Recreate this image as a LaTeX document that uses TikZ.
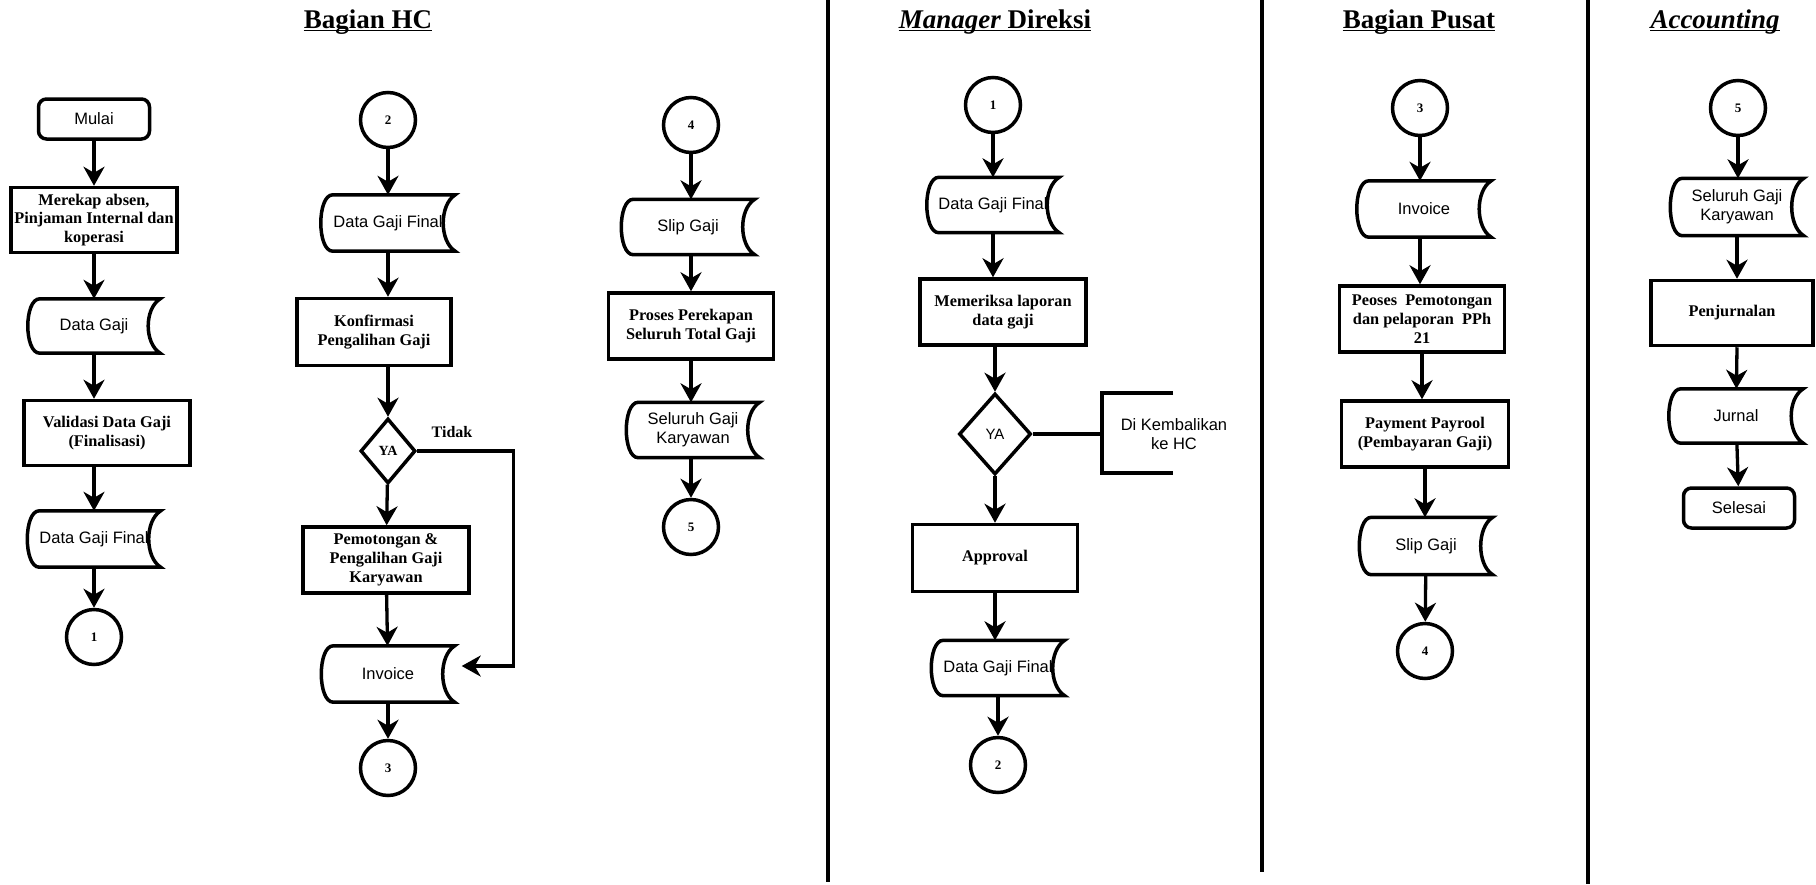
\documentclass[tikz,border=0pt]{standalone}
\usepackage{fontspec}
\setmainfont{Liberation Serif}
\setsansfont{Liberation Sans}
\usetikzlibrary{arrows.meta,shapes.geometric}

\tikzset{
    garis/.style={line width=3.5pt},
    panah/.style={line width=3.3pt, -{Stealth[length=19pt,width=21pt,inset=6pt]}},
    proses/.style={draw, line width=3.5pt, minimum width=166pt, minimum height=66pt, inner sep=1pt, align=center, font=\bfseries\fontsize{16.3}{18.7}\selectfont},
    terminal/.style={draw, line width=3.5pt, rounded corners=8pt, minimum width=111pt, minimum height=40pt, font=\sffamily\fontsize{16.5}{19}\selectfont},
    dok/.style={minimum width=133pt, minimum height=55pt, inner sep=0pt, align=center, font=\sffamily\fontsize{16.5}{19}\selectfont},
    konektor/.style={draw, circle, line width=3.5pt, minimum size=55pt, inner sep=0pt, font=\bfseries\fontsize{13}{15}\selectfont},
    keputusan/.style={draw, diamond, line width=3.5pt, inner sep=0pt, minimum width=55pt, minimum height=65pt},
    judul/.style={inner sep=0pt, anchor=base, font=\bfseries\fontsize{27}{30}\selectfont},
    garisbawah/.style={line width=1.5pt}
}

\newcommand{\bentukdok}[1]{%
    \draw[garis] ([xshift=12pt]#1.north west) -- (#1.north east)
        .. controls ([xshift=-16pt,yshift=-10pt]#1.north east) and ([xshift=-16pt,yshift=10pt]#1.south east) .. (#1.south east)
        -- ([xshift=12pt]#1.south west)
        .. controls ([xshift=-4pt]#1.south west) and ([xshift=-4pt]#1.north west) .. cycle;}

\begin{document}
\begin{tikzpicture}[x=1pt,y=-1pt]
    \useasboundingbox (0,0) rectangle (1816,884);
        \draw[garis] (828,0) to (828,882);
        \draw[garis] (1262,0) to (1262,872);
        \draw[garis] (1588,0) to (1588,884);

        \node[judul] (judulhc) at (368,28){Bagian HC};
            \draw[garisbawah] ([yshift=-2.5pt]judulhc.base west) to ([yshift=-2.5pt]judulhc.base east);
        \node[judul] (judulmgr) at (995,28){{\itshape Manager} Direksi};
            \draw[garisbawah] ([yshift=-2.5pt]judulmgr.base west) to ([yshift=-2.5pt]judulmgr.base east);
        \node[judul] (judulpusat) at (1419,28){Bagian Pusat};
            \draw[garisbawah] ([yshift=-2.5pt]judulpusat.base west) to ([yshift=-2.5pt]judulpusat.base east);
        \node[judul] (judulakun) at (1715,28){\itshape Accounting};
            \draw[garisbawah] ([yshift=-2.5pt]judulakun.base west) to ([yshift=-2.5pt]judulakun.base east);

        \node[terminal] (mulai) at (94,119){Mulai};
        \node[proses, minimum height=65pt] (rekap) at (94,220){Merekap absen,\\Pinjaman Internal dan\\koperasi};
        \node[dok, minimum width=132pt, minimum height=54pt] (datagaji) at (94,326){Data Gaji};
            \bentukdok{datagaji}
        \node[proses, minimum height=65pt] (validasi) at (107,433){Validasi Data Gaji\\(Finalisasi)};
        \node[dok, minimum height=56pt] (dgfa) at (94,539){Data Gaji Final};
            \bentukdok{dgfa}
        \node[konektor] (ka) at (94,637){1};
            \draw[panah] (mulai) to (rekap);
            \draw[panah] (rekap) to (datagaji);
            \draw[panah] (datagaji) to (datagaji |- validasi.north);
            \draw[panah] (datagaji |- validasi.south) to (dgfa);
            \draw[panah] (dgfa) to (ka);

        \node[konektor] (kb) at (388,120){2};
        \node[dok, minimum width=134pt, minimum height=56pt] (dgfb) at (388,223){Data Gaji Final};
            \bentukdok{dgfb}
        \node[proses, minimum width=154pt, minimum height=67pt] (konfirmasi) at (374,332){Konfirmasi\\Pengalihan Gaji};
        \node[keputusan, font=\bfseries\fontsize{14}{16}\selectfont] (yaa) at (388,451){YA};
            \node[font=\bfseries\fontsize{16}{18}\selectfont] (tidak) at (452,432){Tidak};
        \node[proses] (potong) at (386,560){Pemotongan \&\\Pengalihan Gaji\\Karyawan};
        \node[dok, minimum height=56pt] (inva) at (388,674){Invoice};
            \bentukdok{inva}
        \node[konektor] (kc) at (388,768){3};
            \draw[panah] (kb) to (dgfb);
            \draw[panah] (dgfb) to (dgfb |- konfirmasi.north);
            \draw[panah] (dgfb |- konfirmasi.south) to (yaa);
            \draw[panah] (yaa) to (potong);
            \draw[panah] (potong) to (inva);
            \draw[panah] (inva) to (kc);
            \draw[panah] (yaa.east) -- ++(96,0) |- ([xshift=7pt,yshift=8pt]inva.east);

        \node[konektor] (kd) at (691,125){4};
        \node[dok] (slipa) at (688,227){Slip Gaji};
            \bentukdok{slipa}
        \node[proses, minimum width=165pt] (rekaptotal) at (691,326){Proses Perekapan\\Seluruh Total Gaji};
        \node[dok] (seluruha) at (693,430){Seluruh Gaji\\Karyawan};
            \bentukdok{seluruha}
        \node[konektor] (ke) at (691,527){5};
            \draw[panah] (kd) to (kd |- slipa.north);
            \draw[panah] (kd |- slipa.south) to (rekaptotal);
            \draw[panah] (rekaptotal) to (rekaptotal |- seluruha.north);
            \draw[panah] (rekaptotal |- seluruha.south) to (ke);

        \node[konektor] (kf) at (993,105){1};
        \node[dok, minimum width=132pt] (dgfc) at (993,205){Data Gaji Final};
            \bentukdok{dgfc}
        \node[proses] (periksa) at (1003,312){Memeriksa laporan\\data gaji};
        \node[keputusan, minimum width=72pt, minimum height=81pt, font=\sffamily\fontsize{15}{17}\selectfont] (yab) at (995,434){YA};
        \coordinate (kurung) at (1102,434);
        \node[font=\sffamily\fontsize{16.5}{19}\selectfont, align=center] (kembali) at (1174,434){Di Kembalikan\\ke HC};
            \draw[garis] (yab.east) to (kurung);
            \draw[garis] ([xshift=71pt,yshift=41pt]kurung) -- ([yshift=41pt]kurung) -- ([yshift=-39pt]kurung) -- ([xshift=71pt,yshift=-39pt]kurung);
        \node[proses, minimum width=165pt, minimum height=67pt] (approval) at (995,558){Approval};
        \node[dok] (dgfd) at (998,668){Data Gaji Final};
            \bentukdok{dgfd}
        \node[konektor] (kg) at (998,765){2};
            \draw[panah] (kf) to (dgfc);
            \draw[panah] (dgfc) to (dgfc |- periksa.north);
            \draw[panah] (yab |- periksa.south) to (yab);
            \draw[panah] (yab) to (approval);
            \draw[panah] (approval) to (approval |- dgfd.north);
            \draw[panah] (dgfd) to (kg);

        \node[konektor] (kh) at (1420,108){3};
        \node[dok, minimum width=134pt, minimum height=56pt] (invb) at (1424,209){Invoice};
            \bentukdok{invb}
        \node[proses, minimum width=165pt] (peoses) at (1422,319){Peoses\ \ Pemotongan\\dan pelaporan\ \ PPh\\21};
        \node[proses, minimum width=167pt] (payment) at (1425,434){Payment Payrool\\(Pembayaran Gaji)};
        \node[dok, minimum height=57pt] (slipb) at (1426,546){Slip Gaji};
            \bentukdok{slipb}
        \node[konektor] (ki) at (1425,651){4};
            \draw[panah] (kh) to (kh |- invb.north);
            \draw[panah] (kh |- invb.south) to (kh |- peoses.north);
            \draw[panah] (peoses) to (peoses |- payment.north);
            \draw[panah] (payment) to (payment |- slipb.north);
            \draw[panah] (slipb) to (ki);

        \node[konektor] (kj) at (1738,108){5};
        \node[dok, minimum height=57pt] (seluruhb) at (1737,207){Seluruh Gaji\\Karyawan};
            \bentukdok{seluruhb}
        \node[proses, minimum width=162pt, minimum height=65pt] (jurnalan) at (1732,313){Penjurnalan};
        \node[dok, minimum width=134pt, minimum height=54pt] (jurnal) at (1736,416){Jurnal};
            \bentukdok{jurnal}
        \node[terminal] (selesai) at (1739,508){Selesai};
            \draw[panah] (kj) to (kj |- seluruhb.north);
            \draw[panah] (seluruhb) to (seluruhb |- jurnalan.north);
            \draw[panah] (seluruhb |- jurnalan.south) to (jurnal);
            \draw[panah] (jurnal) to (selesai);
\end{tikzpicture}
\end{document}
